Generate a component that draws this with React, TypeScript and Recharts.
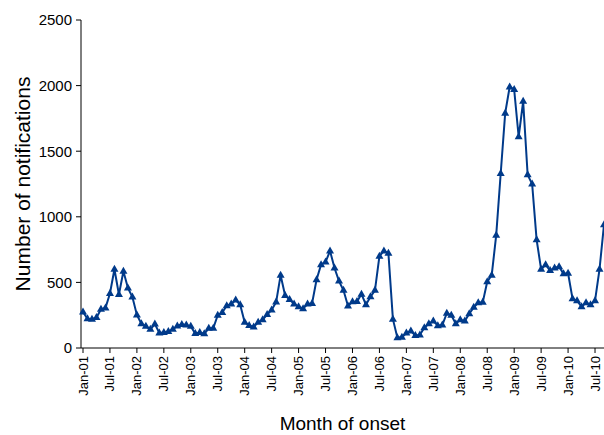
import { Label, Line, LineChart, XAxis, YAxis } from "recharts"

const MONTHS = ["Jan", "Feb", "Mar", "Apr", "May", "Jun", "Jul", "Aug", "Sep", "Oct", "Nov", "Dec"]
const YEARS = ["01", "02", "03", "04", "05", "06", "07", "08", "09", "10"]

// monthly notifications, Jan-01 .. Sep-10
const NOTIFICATIONS = [
    275, 222, 220, 232, 295, 305, 415, 600, 408, 585, 458, 388,
    252, 185, 165, 142, 182, 115, 118, 125, 142, 168, 180, 175,
    165, 110, 118, 108, 150, 150, 250, 270, 322, 335, 365, 330,
    196, 172, 160, 196, 215, 255, 290, 350, 555, 400, 370, 335,
    315, 300, 335, 340, 520, 635, 655, 740, 610, 510, 440, 320,
    352, 355, 410, 330, 390, 440, 700, 740, 722, 220, 78, 82,
    115, 130, 95, 100, 155, 185, 205, 170, 175, 265, 250, 185,
    215, 205, 262, 310, 345, 348, 505, 555, 860, 1330, 1790, 1990,
    1970, 1610, 1880, 1320, 1250, 825, 600, 635, 590, 610, 620, 565,
    570, 375, 360, 315, 345, 330, 360, 600, 940,
]

const Y_TICKS = [0, 500, 1000, 1500, 2000, 2500]

const data = NOTIFICATIONS.map((v, i) => ({
    month: `${MONTHS[i % 12]}-${YEARS[Math.floor(i / 12)]}`,
    notifications: v,
}))

const LINE_COLOR = "#003a8a"
const FONT = "'Liberation Sans', Arial, sans-serif"

function Triangle({ cx, cy, index }: any) {
    if (cx == null || cy == null) return null
    return (
        <path
            key={`tri-${index}`}
            d={`M${cx},${cy - 4.5} L${cx + 4},${cy + 2.5} L${cx - 4},${cy + 2.5} Z`}
            fill={LINE_COLOR}
        />
    )
}

function MonthTick({ x, y, payload }: any) {
    return (
        <text
            x={x}
            y={y}
            transform={`rotate(-90, ${x}, ${y})`}
            textAnchor="end"
            dy="0.35em"
            fontSize={13}
            fontFamily={FONT}
            fill="#000"
        >
            {payload.value}
        </text>
    )
}

export default function App() {
    return (
        <div style={{ position: "absolute", left: 0, top: 0, background: "#fff" }}>
            <LineChart
                width={604}
                height={435}
                data={data}
                margin={{ top: 20, right: 0, left: 0, bottom: 0 }}
            >
                <XAxis
                    dataKey="month"
                    interval={5}
                    tick={<MonthTick />}
                    tickSize={5}
                    tickMargin={3}
                    height={87}
                    padding={{ left: 2, right: 0 }}
                    stroke="#000"
                    tickLine={{ stroke: "#000" }}
                >
                    <Label
                        content={({ viewBox }: any) => (
                            <text
                                x={viewBox.x + viewBox.width / 2}
                                y={viewBox.y + viewBox.height - 5}
                                textAnchor="middle"
                                fontSize={19}
                                fontFamily={FONT}
                                fill="#000"
                            >
                                Month of onset
                            </text>
                        )}
                    />
                </XAxis>
                <YAxis
                    domain={[0, 2500]}
                    ticks={Y_TICKS}
                    width={81}
                    tickSize={5}
                    tickMargin={4}
                    stroke="#000"
                    tick={{ fill: "#000", fontSize: 15, fontFamily: FONT }}
                >
                    <Label
                        content={({ viewBox }: any) => {
                            const x = viewBox.x + 22
                            const y = viewBox.y + viewBox.height / 2
                            return (
                                <text
                                    x={x}
                                    y={y}
                                    transform={`rotate(-90, ${x}, ${y})`}
                                    textAnchor="middle"
                                    dominantBaseline="central"
                                    fontSize={21}
                                    fontFamily={FONT}
                                    fill="#000"
                                >
                                    Number of notifications
                                </text>
                            )
                        }}
                    />
                </YAxis>
                <Line
                    type="linear"
                    dataKey="notifications"
                    stroke={LINE_COLOR}
                    strokeWidth={2}
                    dot={<Triangle />}
                    activeDot={false}
                    isAnimationActive={false}
                />
            </LineChart>
        </div>
    )
}
